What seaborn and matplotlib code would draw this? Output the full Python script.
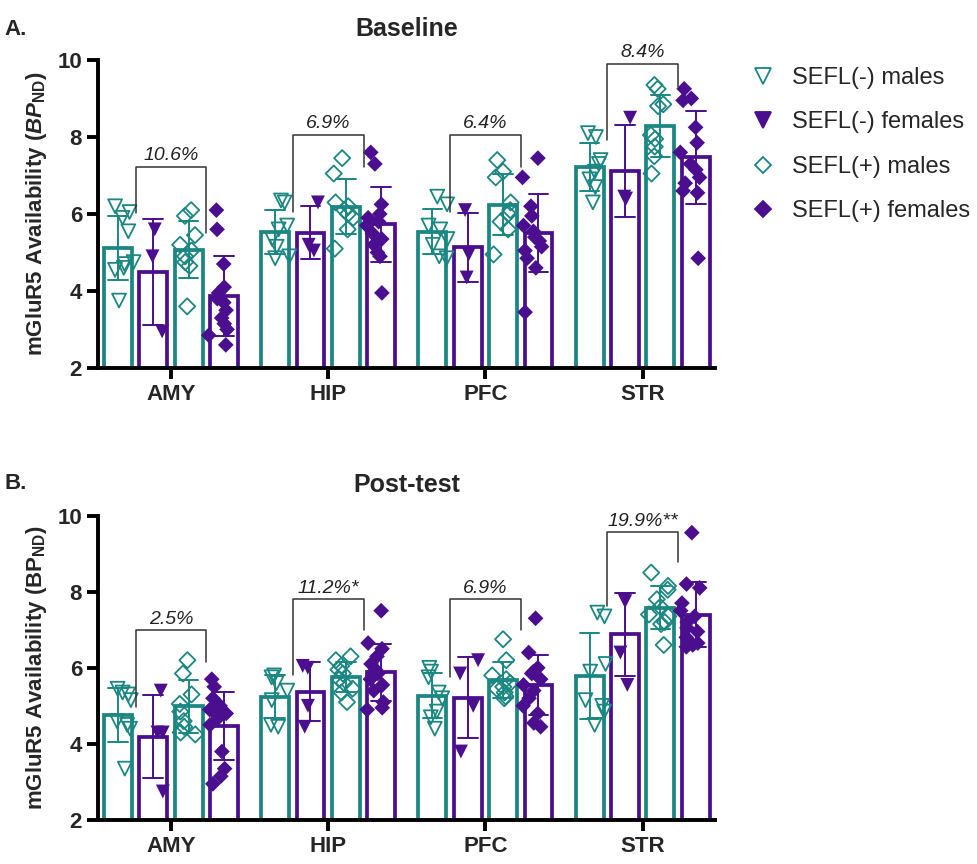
import numpy as np
import pandas as pd
import seaborn as sns
import matplotlib.pyplot as plt
from matplotlib.lines import Line2D

regions = ['AMY', 'HIP', 'PFC', 'STR']
groups = ['SEFL(-) males', 'SEFL(-) females', 'SEFL(+) males', 'SEFL(+) females']
teal = '#1a8782'
purple = '#4a0e8f'
colors = [teal, purple, teal, purple]
markers = ['v', 'v', 'D', 'D']
filled = [False, True, False, True]
msize = [10, 10, 8.2, 8.0]

# Baseline values (BPND) per region
base_neg_m = {'AMY': [6.2, 6.05, 5.9, 5.55, 4.75, 4.7, 4.6, 4.55, 3.75],
              'HIP': [6.35, 6.3, 5.7, 5.6, 5.35, 5.15, 4.9, 4.85],
              'PFC': [6.45, 6.25, 5.7, 5.6, 5.35, 5.2, 4.9, 4.85],
              'STR': [8.1, 8.0, 7.4, 7.3, 7.1, 6.9, 6.7, 6.3]}
base_neg_f = {'AMY': [5.6, 4.9, 2.95],
              'HIP': [6.3, 5.2, 5.05],
              'PFC': [6.1, 4.95, 4.35],
              'STR': [8.5, 6.45, 6.4]}
base_pos_m = {'AMY': [6.1, 5.95, 5.45, 5.2, 5.05, 4.9, 4.75, 4.65, 3.6],
              'HIP': [7.45, 7.05, 6.3, 6.2, 6.1, 6.0, 5.9, 5.6, 5.1],
              'PFC': [7.4, 7.1, 6.95, 6.3, 6.1, 6.0, 5.8, 5.6, 4.95],
              'STR': [9.35, 9.25, 8.85, 8.8, 8.05, 7.95, 7.75, 7.5, 7.05]}
base_pos_f = {'AMY': [6.1, 5.6, 4.7, 4.1, 3.95, 3.8, 3.7, 3.5, 3.3, 3.15, 3.0, 2.85, 2.6],
              'HIP': [7.6, 7.3, 6.25, 6.0, 5.9, 5.8, 5.7, 5.5, 5.35, 5.2, 5.0, 4.9, 3.95],
              'PFC': [7.45, 6.95, 6.2, 5.95, 5.7, 5.55, 5.4, 5.3, 5.15, 5.05, 4.85, 4.6, 3.45],
              'STR': [9.25, 9.0, 8.95, 8.25, 7.85, 7.6, 7.3, 7.15, 6.95, 6.8, 6.6, 6.55, 4.85]}

# Post-test values
post_neg_m = {'AMY': [5.45, 5.35, 5.3, 5.15, 4.6, 4.5, 4.4, 3.35],
              'HIP': [5.8, 5.75, 5.6, 5.4, 5.15, 4.5, 4.45],
              'PFC': [6.0, 5.9, 5.75, 5.35, 5.2, 4.85, 4.7, 4.4],
              'STR': [7.45, 7.35, 6.1, 5.9, 5.15, 5.0, 4.85, 4.5]}
post_neg_f = {'AMY': [5.4, 4.3, 4.3, 2.75],
              'HIP': [6.05, 6.0, 5.0, 4.45],
              'PFC': [6.2, 5.85, 5.0, 3.8],
              'STR': [7.8, 7.75, 6.4, 5.55]}
post_pos_m = {'AMY': [6.2, 5.85, 5.3, 5.05, 4.85, 4.6, 4.45, 4.3, 4.25],
              'HIP': [6.3, 6.2, 6.05, 5.95, 5.85, 5.7, 5.6, 5.45, 5.35, 5.1],
              'PFC': [6.75, 6.2, 5.8, 5.7, 5.6, 5.5, 5.45, 5.35, 5.25, 5.2],
              'STR': [8.5, 8.15, 8.05, 7.8, 7.6, 7.4, 7.35, 7.2, 7.15, 6.6]}
post_pos_f = {'AMY': [5.7, 5.5, 5.2, 5.0, 4.9, 4.8, 4.75, 4.65, 4.5, 3.8, 3.35, 3.15, 2.95],
              'HIP': [7.5, 6.65, 6.5, 6.3, 6.1, 5.95, 5.85, 5.7, 5.55, 5.4, 5.1, 4.95, 4.9],
              'PFC': [7.3, 6.4, 6.0, 5.9, 5.85, 5.7, 5.55, 5.4, 5.2, 5.0, 4.8, 4.55, 4.45],
              'STR': [9.55, 8.2, 8.1, 7.7, 7.5, 7.35, 7.2, 7.05, 6.95, 6.8, 6.65, 6.6, 6.55]}

# percent-change brackets (SEFL- vs SEFL+)
base_pct = ['10.6%', '6.9%', '6.4%', '8.4%']
base_br_top = [7.23, 8.05, 8.05, 9.9]
base_br_left = [6.02, 6.06, 6.06, 7.92]
base_br_right = [5.5, 7.23, 7.23, 9.31]
post_pct = ['2.5%', '11.2%*', '6.9%', '19.9%**']
post_br_top = [6.98, 7.8, 7.8, 9.56]
post_br_left = [4.98, 5.81, 5.77, 7.62]
post_br_right = [6.16, 7.0, 6.98, 8.78]


def to_long(sets):
    rows = []
    for g, d in zip(groups, sets):
        for r in regions:
            for v in d[r]:
                rows.append((r, g, v))
    return pd.DataFrame(rows, columns=['region', 'group', 'value'])


base_df = to_long([base_neg_m, base_neg_f, base_pos_m, base_pos_f])
post_df = to_long([post_neg_m, post_neg_f, post_pos_m, post_pos_f])

sns.set_style('white')
plt.rcParams['font.family'] = ['Liberation Sans', 'DejaVu Sans']
plt.rcParams['mathtext.fontset'] = 'custom'
plt.rcParams['mathtext.rm'] = 'Liberation Sans:bold'
plt.rcParams['mathtext.it'] = 'Liberation Sans:italic:bold'
plt.rcParams['mathtext.bf'] = 'Liberation Sans:bold'
np.random.seed(7)

pal = dict(zip(groups, colors))
W = 0.9

fig = plt.figure(figsize=(9.77, 8.64), dpi=100)
axA = fig.add_axes([0.1003, 0.5741, 0.6315, 0.3565])
axB = fig.add_axes([0.1003, 0.0509, 0.6315, 0.3524])


def draw(ax, df, title, ylab, pct, top, left, right):
    for g, c, m, f, ms in zip(groups, colors, markers, filled, msize):
        sub = df[df.group == g]
        sns.barplot(data=sub, x='region', y='value', hue='group', order=regions,
                    hue_order=groups, palette=pal, dodge=True, fill=False,
                    width=W, gap=0.21, errorbar='sd', capsize=0.5,
                    linewidth=2.7, err_kws={'color': c, 'linewidth': 1.4},
                    legend=False, ax=ax)
        n = len(ax.collections)
        sns.stripplot(data=sub, x='region', y='value', hue='group', order=regions,
                      hue_order=groups, palette=pal, dodge=True, jitter=0.26,
                      marker=m, size=ms, legend=False, ax=ax, zorder=3)
        for p in ax.collections[n:]:
            if not f:
                p.set_facecolor('none')
                p.set_edgecolor(c)
                p.set_linewidth(1.3)
    # brackets
    off = W / 4
    for i in range(len(regions)):
        ax.plot([i - off, i - off, i + off, i + off],
                [left[i], top[i], top[i], right[i]],
                color='#333333', lw=1.1, zorder=4)
        ax.text(i, top[i] + 0.07, pct[i], ha='center', va='bottom',
                fontsize=14, style='italic', color='#222222')
    ax.set_ylim(2, 10)
    ax.set_xlim(-0.464, 3.46)
    ax.set_yticks([2, 4, 6, 8, 10])
    ax.set_xlabel('')
    ax.set_ylabel(ylab, fontsize=16, fontweight='bold', labelpad=6)
    ax.set_title(title, fontsize=18, fontweight='bold', pad=17)
    sns.despine(ax=ax)
    for s in ['left', 'bottom']:
        ax.spines[s].set_linewidth(2.8)
        ax.spines[s].set_color('black')
    ax.tick_params(axis='both', direction='out', length=8, width=2.8,
                   color='black', labelsize=16, left=True, bottom=True)
    for lab in ax.get_xticklabels() + ax.get_yticklabels():
        lab.set_fontweight('bold')


draw(axA, base_df, 'Baseline', r'mGluR5 Availability ($\mathit{BP}_{\mathbf{ND}}$)',
     base_pct, base_br_top, base_br_left, base_br_right)
draw(axB, post_df, 'Post-test', r'mGluR5 Availability ($\mathbf{BP}_{\mathbf{ND}}$)',
     post_pct, post_br_top, post_br_left, post_br_right)

fig.text(0.005, 0.966, 'A.', fontsize=16, fontweight='bold', va='center')
fig.text(0.005, 0.44, 'B.', fontsize=16, fontweight='bold', va='center')

handles = []
for g, c, m, f in zip(groups, colors, markers, filled):
    handles.append(Line2D([], [], ls='none', marker=m, color=c,
                          markerfacecolor=c if f else 'none',
                          markeredgecolor=c, markersize=11 if m == 'v' else 8,
                          markeredgewidth=1.3))
fig.legend(handles, groups, loc='upper left', bbox_to_anchor=(0.745, 0.947),
           frameon=False, fontsize=17, labelspacing=0.95, handletextpad=0.6,
           handlelength=1.2)

fig.savefig('out.png', dpi=100)
